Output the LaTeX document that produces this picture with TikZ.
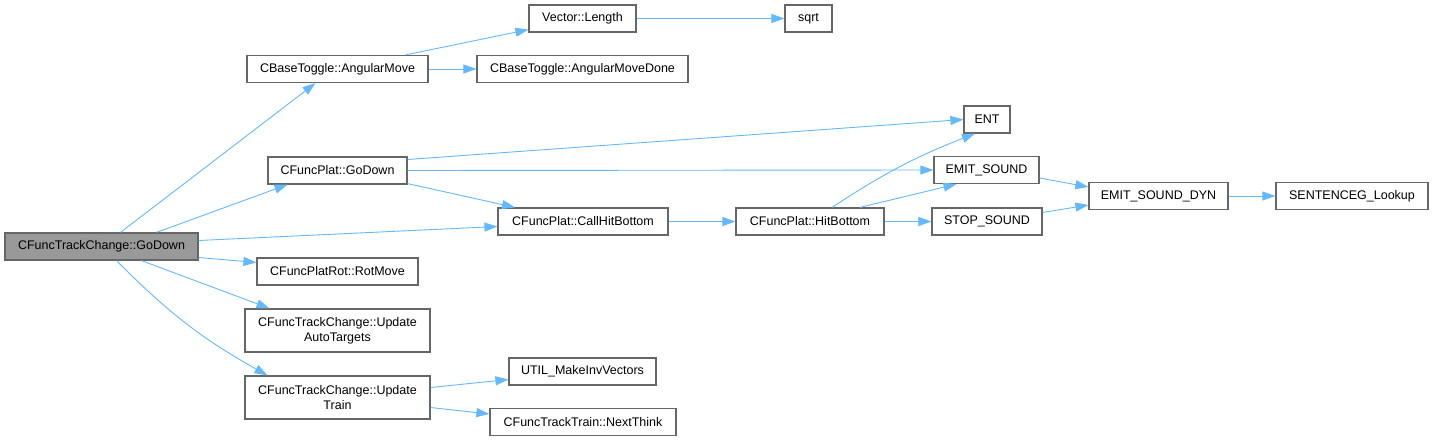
\documentclass[tikz,border=0pt]{standalone}
\usepackage{fontspec}
\setmainfont{Liberation Sans}
\usetikzlibrary{arrows.meta}
\definecolor{edgeblue}{HTML}{63B8FF}
\definecolor{boxgray}{HTML}{666666}
\definecolor{curgray}{HTML}{999999}
\begin{document}
\begin{tikzpicture}[x=1pt, y=-1pt,
    fn/.style={draw=boxgray, line width=1.2pt, fill=white, inner sep=2pt,
      minimum height=27pt, font=\fontsize{12.5}{15}\selectfont, align=center},
    fncur/.style={fn, fill=curgray},
    call/.style={draw=edgeblue, line width=0.9pt, -{Triangle[length=13pt, width=9pt]}}]
    \useasboundingbox (0,0) rectangle (1432,441);

    % Funcion de partida
    \node[fncur, minimum width=193pt] (godown) at (101.5,246.5) {CFuncTrackChange::GoDown};

    % Primera columna
    \node[fn, minimum width=181pt] (angmove) at (337.5,69) {CBaseToggle::AngularMove};
    \node[fn, minimum width=139pt] (platdown) at (337.5,170.5) {CFuncPlat::GoDown};
    \node[fn, minimum width=161pt] (rotmove) at (337.5,271.5) {CFuncPlatRot::RotMove};
    \node[fn, minimum width=185pt, minimum height=43pt] (autotgt) at (337.5,330.5) {CFuncTrackChange::Update\\AutoTargets};
    \node[fn, minimum width=185pt, minimum height=43pt] (updtrain) at (337.5,397.5) {CFuncTrackChange::Update\\Train};

    % Segunda columna
    \node[fn, minimum width=107pt] (veclen) at (582.5,18.5) {Vector::Length};
    \node[fn, minimum width=211pt] (angdone) at (582.5,69) {CBaseToggle::AngularMoveDone};
    \node[fn, minimum width=170pt] (callhit) at (583,221.5) {CFuncPlat::CallHitBottom};
    \node[fn, minimum width=147pt] (invvec) at (582.5,371.5) {UTIL\_MakeInvVectors};
    \node[fn, minimum width=186pt] (nextthink) at (583,422) {CFuncTrackTrain::NextThink};

    % Tercera columna
    \node[fn, minimum width=47pt] (sqrt) at (808.5,18.5) {sqrt};
    \node[fn, minimum width=148pt] (hitbot) at (810,221.5) {CFuncPlat::HitBottom};

    % Sonidos
    \node[fn, minimum width=46pt] (ent) at (987,119.5) {ENT};
    \node[fn, minimum width=105pt] (emit) at (986.5,170) {EMIT\_SOUND};
    \node[fn, minimum width=110pt] (stop) at (987,221.5) {STOP\_SOUND};
    \node[fn, minimum width=139pt] (emitdyn) at (1158.5,196) {EMIT\_SOUND\_DYN};
    \node[fn, minimum width=152pt] (sentence) at (1352,196) {SENTENCEG\_Lookup};

    % Llamadas desde GoDown
    \draw[call] ([xshift=19pt]godown.north) -- ([xshift=-22pt]angmove.south);
    \draw[call] ([xshift=55pt]godown.north) -- ([xshift=-50pt]platdown.south);
    \draw[call] ([yshift=6pt]godown.east) -- ([yshift=-5pt]callhit.west);
    \draw[call] ([yshift=-11pt]godown.east) -- ([yshift=9pt]rotmove.west);
    \draw[call] ([xshift=40pt]godown.south) -- ([xshift=-68pt]autotgt.north);
    \draw[call] ([xshift=15pt]godown.south) to[bend right=8] ([xshift=-70pt]updtrain.north);

    % AngularMove
    \draw[call] ([xshift=68pt]angmove.north) -- ([yshift=3pt]veclen.south west);
    \draw[call] (angmove) -- (angdone);
    \draw[call] (veclen) -- (sqrt);

    % CFuncPlat::GoDown
    \draw[call] ([yshift=11pt]platdown.east) -- (ent.west);
    \draw[call] (platdown.east) -- (emit.west);
    \draw[call] ([yshift=1pt]platdown.south east) -- ([xshift=-68pt]callhit.north);
    \draw[call] (callhit) -- (hitbot);

    % HitBottom
    \draw[call] ([xshift=22pt]hitbot.north) to[bend left=6] ([xshift=-12pt]ent.south);
    \draw[call] ([xshift=50pt]hitbot.north) -- ([xshift=-30pt]emit.south);
    \draw[call] (hitbot) -- (stop);

    % Sonidos
    \draw[call] ([yshift=-8pt]emit.east) -- ([yshift=9pt]emitdyn.west);
    \draw[call] ([yshift=9pt]stop.east) -- ([yshift=-9pt]emitdyn.west);
    \draw[call] (emitdyn) -- (sentence);

    % UpdateTrain
    \draw[call] ([yshift=10pt]updtrain.east) -- ([yshift=-8pt]invvec.west);
    \draw[call] ([yshift=-10pt]updtrain.east) -- ([yshift=8pt]nextthink.west);
\end{tikzpicture}
\end{document}
